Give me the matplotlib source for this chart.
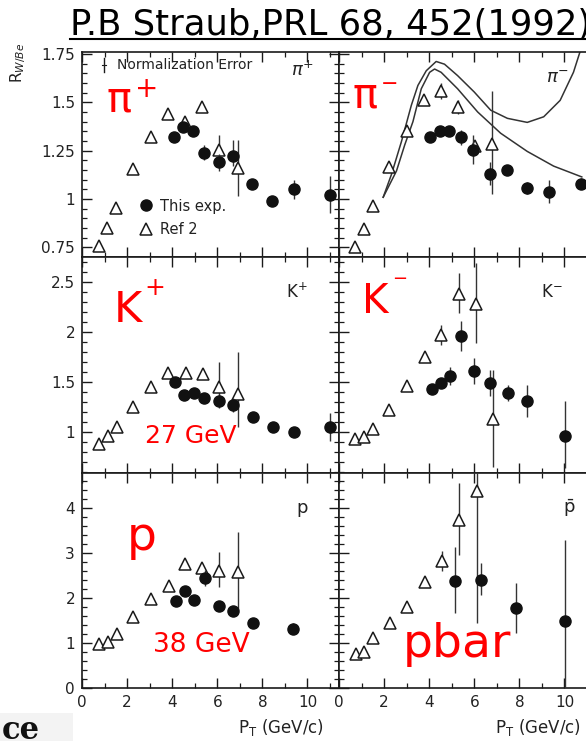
import numpy as np
import matplotlib.pyplot as plt
from matplotlib.lines import Line2D
from matplotlib.patches import Rectangle
from matplotlib.ticker import MultipleLocator, FuncFormatter

W, H = 586, 741

# --- values: pT (GeV/c), R_W/Be, error down / up ---
# pi+
pip_exp_pt = [4.09, 4.50, 4.92, 5.39, 6.06, 6.72, 7.54, 8.43, 9.42, 10.99]
pip_exp_r = [1.32, 1.37, 1.35, 1.24, 1.19, 1.22, 1.08, 0.99, 1.05, 1.02]
pip_exp_lo = [0.02, 0.02, 0.02, 0.04, 0.045, 0.05, 0.02, 0.02, 0.05, 0.09]
pip_exp_hi = [0.02, 0.02, 0.02, 0.04, 0.045, 0.085, 0.02, 0.02, 0.05, 0.10]
pip_ref_pt = [0.76, 1.13, 1.50, 2.28, 3.05, 3.81, 4.58, 5.32, 6.09, 6.90]
pip_ref_r = [0.755, 0.85, 0.953, 1.153, 1.323, 1.439, 1.40, 1.476, 1.255, 1.162]
pip_ref_lo = [0, 0, 0, 0, 0, 0, 0, 0, 0.03, 0.145]
pip_ref_hi = [0, 0, 0, 0, 0, 0, 0, 0, 0.075, 0.145]

# pi-
pim_exp_pt = [4.04, 4.50, 4.90, 5.41, 5.96, 6.69, 7.47, 8.35, 9.33, 10.74]
pim_exp_r = [1.323, 1.354, 1.35, 1.318, 1.255, 1.131, 1.15, 1.056, 1.037, 1.08]
pim_exp_lo = [0.02, 0.02, 0.02, 0.04, 0.075, 0.06, 0.02, 0.03, 0.06, 0.03]
pim_exp_hi = [0.02, 0.02, 0.02, 0.04, 0.075, 0.06, 0.02, 0.03, 0.06, 0.03]
pim_ref_pt = [0.71, 1.11, 1.49, 2.22, 3.02, 3.75, 4.53, 5.26, 6.04, 6.77]
pim_ref_r = [0.754, 0.843, 0.966, 1.167, 1.354, 1.51, 1.558, 1.476, 1.276, 1.286]
pim_ref_lo = [0, 0, 0, 0, 0, 0, 0.04, 0.035, 0, 0.26]
pim_ref_hi = [0, 0, 0, 0, 0, 0, 0.04, 0.035, 0, 0.27]

# model curves in the pi- panel
curve1_pt = [1.96, 2.33, 2.77, 3.21, 3.50, 3.87, 4.31, 4.68, 5.26, 6.00, 6.73,
             7.47, 8.35, 9.08, 9.81, 10.40, 10.77]
curve1_r = [1.009, 1.128, 1.297, 1.485, 1.587, 1.663, 1.711, 1.697, 1.638, 1.553,
            1.459, 1.417, 1.396, 1.425, 1.51, 1.655, 1.79]
curve2_pt = [1.96, 2.55, 2.92, 3.28, 3.65, 4.02, 4.24, 4.53, 5.26, 6.15, 7.17,
             8.35, 9.52, 10.77]
curve2_r = [1.009, 1.145, 1.281, 1.40, 1.57, 1.655, 1.672, 1.655, 1.57, 1.45,
            1.34, 1.246, 1.17, 1.114]

# K+
kp_exp_pt = [4.13, 4.53, 4.95, 5.39, 6.06, 6.72, 7.57, 8.46, 9.42, 10.99]
kp_exp_r = [1.50, 1.37, 1.39, 1.34, 1.31, 1.27, 1.15, 1.05, 1.00, 1.05]
kp_exp_lo = [0.03, 0.03, 0.03, 0.03, 0.07, 0.07, 0.03, 0.03, 0.04, 0.14]
kp_exp_hi = [0.03, 0.03, 0.03, 0.03, 0.07, 0.07, 0.03, 0.03, 0.04, 0.14]
kp_ref_pt = [0.76, 1.14, 1.54, 2.28, 3.05, 3.81, 4.61, 5.35, 6.09, 6.90]
kp_ref_r = [0.88, 0.96, 1.05, 1.25, 1.45, 1.59, 1.59, 1.58, 1.45, 1.38]
kp_ref_lo = [0, 0, 0, 0, 0, 0, 0, 0, 0.13, 0.33]
kp_ref_hi = [0, 0, 0, 0, 0, 0, 0, 0, 0.25, 0.42]

# K-
km_exp_pt = [4.13, 4.53, 4.94, 5.41, 6.00, 6.69, 7.50, 8.35, 10.04]
km_exp_r = [1.43, 1.49, 1.56, 1.96, 1.61, 1.49, 1.39, 1.31, 0.96]
km_exp_lo = [0.03, 0.04, 0.09, 0.15, 0.13, 0.13, 0.08, 0.16, 0.32]
km_exp_hi = [0.03, 0.04, 0.09, 0.15, 0.13, 0.13, 0.08, 0.16, 0.35]
km_ref_pt = [0.71, 1.12, 1.49, 2.22, 3.02, 3.80, 4.53, 5.34, 6.07, 6.84]
km_ref_r = [0.93, 0.95, 1.03, 1.22, 1.46, 1.75, 1.97, 2.38, 2.28, 1.13]
km_ref_lo = [0, 0, 0, 0, 0, 0, 0.10, 0.19, 0.39, 0.48]
km_ref_hi = [0, 0, 0, 0, 0, 0, 0.10, 0.21, 0.41, 0.49]

# p
p_exp_pt = [4.16, 4.55, 4.95, 5.44, 6.06, 6.72, 7.57, 9.35]
p_exp_r = [1.94, 2.16, 1.96, 2.45, 1.83, 1.72, 1.45, 1.32]
p_exp_lo = [0.05, 0.05, 0.05, 0.18, 0.05, 0.05, 0.05, 0.13]
p_exp_hi = [0.05, 0.05, 0.05, 0.18, 0.05, 0.05, 0.05, 0.13]
p_ref_pt = [0.76, 1.17, 1.57, 2.28, 3.05, 3.84, 4.58, 5.32, 6.09, 6.90]
p_ref_r = [0.97, 1.03, 1.20, 1.57, 1.97, 2.27, 2.76, 2.66, 2.61, 2.58]
p_ref_lo = [0, 0, 0, 0, 0, 0, 0, 0.10, 0.36, 0.85]
p_ref_hi = [0, 0, 0, 0, 0, 0, 0, 0.10, 0.42, 0.89]

# pbar
pb_exp_pt = [5.16, 6.29, 7.83, 10.04]
pb_exp_r = [2.38, 2.41, 1.78, 1.50]
pb_exp_lo = [0.72, 0.35, 0.56, 1.50]
pb_exp_hi = [0.75, 0.36, 0.55, 1.79]
pb_ref_pt = [0.76, 1.12, 1.52, 2.25, 3.02, 3.80, 4.56, 5.34, 6.11]
pb_ref_r = [0.75, 0.81, 1.12, 1.44, 1.81, 2.36, 2.83, 3.73, 4.38]
pb_ref_lo = [0, 0, 0, 0, 0, 0, 0.22, 0.77, 2.94]
pb_ref_hi = [0, 0, 0, 0, 0, 0, 0.22, 0.82, 1.00]

INK = '#1a1a1a'
RED = '#ff0000'

fig = plt.figure(figsize=(W / 100, H / 100), dpi=100)


def px_rect(l, t, r, b):
    return [l / W, 1 - b / H, (r - l) / W, (b - t) / H]


def ftext(x, y, s, **kw):
    """text placed in figure pixels (from top-left)"""
    return fig.text(x / W, 1 - y / H, s, **kw)


def setup(ax, ylim, ymaj, ymin, ylab, xlab):
    ax.set_xlim(0, 11.4)
    ax.set_ylim(*ylim)
    ax.xaxis.set_major_locator(MultipleLocator(2))
    ax.xaxis.set_minor_locator(MultipleLocator(1))
    ax.yaxis.set_major_locator(MultipleLocator(ymaj))
    ax.yaxis.set_minor_locator(MultipleLocator(ymin))
    fmt = FuncFormatter(lambda v, p: f'{v:g}')
    ax.xaxis.set_major_formatter(fmt)
    ax.yaxis.set_major_formatter(fmt)
    ax.tick_params(which='both', direction='in', top=True, right=True,
                   labelsize=11, labelcolor='#222222', color=INK)
    ax.tick_params(which='major', length=7, width=1.0, pad=5)
    ax.tick_params(which='minor', length=3.5, width=0.9)
    ax.tick_params(labelleft=ylab, labelbottom=xlab)
    for s in ax.spines.values():
        s.set_linewidth(1.2)
        s.set_color(INK)


def draw(ax, ept, er, elo, ehi, rpt, rr, rlo, rhi):
    ax.errorbar(rpt, rr, yerr=[rlo, rhi], fmt='^', ms=9, mfc='white', mec=INK,
                mew=1.1, ecolor='#333333', elinewidth=1, capsize=0, zorder=3)
    ax.errorbar(ept, er, yerr=[elo, ehi], fmt='o', ms=8, mfc='#111111', mec='#111111',
                ecolor='#333333', elinewidth=1, capsize=0, zorder=4)


L, R = 82, 339
rows = [(52, 257), (257, 473), (473, 688)]

ax_pip = fig.add_axes(px_rect(L, rows[0][0], R, rows[0][1]))
ax_pim = fig.add_axes(px_rect(R, rows[0][0], R + 257, rows[0][1]))
ax_kp = fig.add_axes(px_rect(L, rows[1][0], R, rows[1][1]))
ax_km = fig.add_axes(px_rect(R, rows[1][0], R + 257, rows[1][1]))
ax_p = fig.add_axes(px_rect(L, rows[2][0], R, rows[2][1]))
ax_pb = fig.add_axes(px_rect(R, rows[2][0], R + 257, rows[2][1]))

setup(ax_pip, (0.70, 1.76), 0.25, 0.05, True, False)
setup(ax_pim, (0.70, 1.76), 0.25, 0.05, False, False)
setup(ax_kp, (0.59, 2.75), 0.5, 0.1, True, False)
setup(ax_km, (0.59, 2.75), 0.5, 0.1, False, False)
setup(ax_p, (0, 4.78), 1, 0.2, True, True)
setup(ax_pb, (0, 4.78), 1, 0.2, False, True)

draw(ax_pip, pip_exp_pt, pip_exp_r, pip_exp_lo, pip_exp_hi,
     pip_ref_pt, pip_ref_r, pip_ref_lo, pip_ref_hi)
draw(ax_pim, pim_exp_pt, pim_exp_r, pim_exp_lo, pim_exp_hi,
     pim_ref_pt, pim_ref_r, pim_ref_lo, pim_ref_hi)
draw(ax_kp, kp_exp_pt, kp_exp_r, kp_exp_lo, kp_exp_hi,
     kp_ref_pt, kp_ref_r, kp_ref_lo, kp_ref_hi)
draw(ax_km, km_exp_pt, km_exp_r, km_exp_lo, km_exp_hi,
     km_ref_pt, km_ref_r, km_ref_lo, km_ref_hi)
draw(ax_p, p_exp_pt, p_exp_r, p_exp_lo, p_exp_hi,
     p_ref_pt, p_ref_r, p_ref_lo, p_ref_hi)
draw(ax_pb, pb_exp_pt, pb_exp_r, pb_exp_lo, pb_exp_hi,
     pb_ref_pt, pb_ref_r, pb_ref_lo, pb_ref_hi)

ax_pim.plot(curve1_pt, curve1_r, color='#333333', lw=1.1, zorder=2)
ax_pim.plot(curve2_pt, curve2_r, color='#333333', lw=1.1, zorder=2)

# legend + normalization error key in the pi+ panel
hs = [Line2D([], [], ls='none', marker='o', ms=8, mfc='#111111', mec='#111111'),
      Line2D([], [], ls='none', marker='^', ms=9, mfc='white', mec=INK, mew=1.1)]
ax_pip.legend(hs, ['This exp.', 'Ref 2'], loc='upper left', bbox_to_anchor=(0.22, 0.285),
              frameon=False, fontsize=10.5, borderpad=0, borderaxespad=0,
              handlelength=1.0, handletextpad=0.5, labelspacing=0.6,
              labelcolor='#222222')
ax_pip.plot([0.086, 0.086], [0.902, 0.971], transform=ax_pip.transAxes, color=INK, lw=1)
ax_pip.plot([0.078, 0.094], [0.937, 0.937], transform=ax_pip.transAxes, color=INK, lw=0.8)
ax_pip.text(0.136, 0.935, 'Normalization Error', transform=ax_pip.transAxes,
            fontsize=10, color='#222222', va='center')

# black particle labels
ftext(302, 70, r'$\pi^{+}$', fontsize=13, color='#222222', ha='center', va='center')
ftext(557, 78, r'$\pi^{-}$', fontsize=13, color='#222222', ha='center', va='center')
ftext(297, 292, r'K$^{+}$', fontsize=12, color='#222222', ha='center', va='center')
ftext(552, 292, r'K$^{-}$', fontsize=12, color='#222222', ha='center', va='center')
ftext(302, 508, 'p', fontsize=13, color='#222222', ha='center', va='center')
ftext(569, 508, r'$\bar{\mathrm{p}}$', fontsize=13, color='#222222', ha='center', va='center')

# red annotations
ftext(106, 112, 'π', fontsize=30, color=RED, va='baseline')
ftext(147, 89, '+', fontsize=20, color=RED, ha='center', va='center')
ftext(352, 108, 'π', fontsize=30, color=RED, va='baseline')
ftext(390, 84, '−', fontsize=15, color=RED, ha='center', va='center')
ftext(114, 322, 'K', fontsize=31, color=RED, va='baseline')
ftext(155, 288, '+', fontsize=18, color=RED, ha='center', va='center')
ftext(362, 313, 'K', fontsize=29, color=RED, va='baseline')
ftext(400, 279, '−', fontsize=13, color=RED, ha='center', va='center')
ftext(127, 550, 'p', fontsize=34, color=RED, va='baseline')
ftext(403, 657, 'pbar', fontsize=34, color=RED, va='baseline')
ftext(191, 436, '27 GeV', fontsize=18, color=RED, ha='center', va='center')
ftext(201, 645, '38 GeV', fontsize=19, color=RED, ha='center', va='center')

# axis titles
ftext(18, 63, r'R$_{W/Be}$', fontsize=11, color='#222222', rotation=90,
      ha='center', va='center')
ftext(281, 727, r'P$_{\rm T}$ (GeV/c)', fontsize=12, color='#222222', ha='center', va='center')
ftext(538, 727, r'P$_{\rm T}$ (GeV/c)', fontsize=12, color='#222222', ha='center', va='center')

# title with underline
ftext(70, 35, 'P.B Straub,PRL 68, 452(1992)', fontsize=25.5, color='black', va='baseline')
fig.add_artist(Line2D([70 / W, 1.0], [1 - 39 / H, 1 - 39 / H], transform=fig.transFigure,
                      color='black', lw=1.5))

# slide fragment at bottom left
fig.add_artist(Rectangle((0, 0), 73 / W, 28 / H, transform=fig.transFigure,
                         facecolor='#f3f3f3', edgecolor='none', zorder=0))
ftext(2, 739, 'ce', fontsize=22, fontfamily='DejaVu Serif', fontweight='bold',
      color='#111111', va='baseline')

fig.savefig('out.png', dpi=100)
